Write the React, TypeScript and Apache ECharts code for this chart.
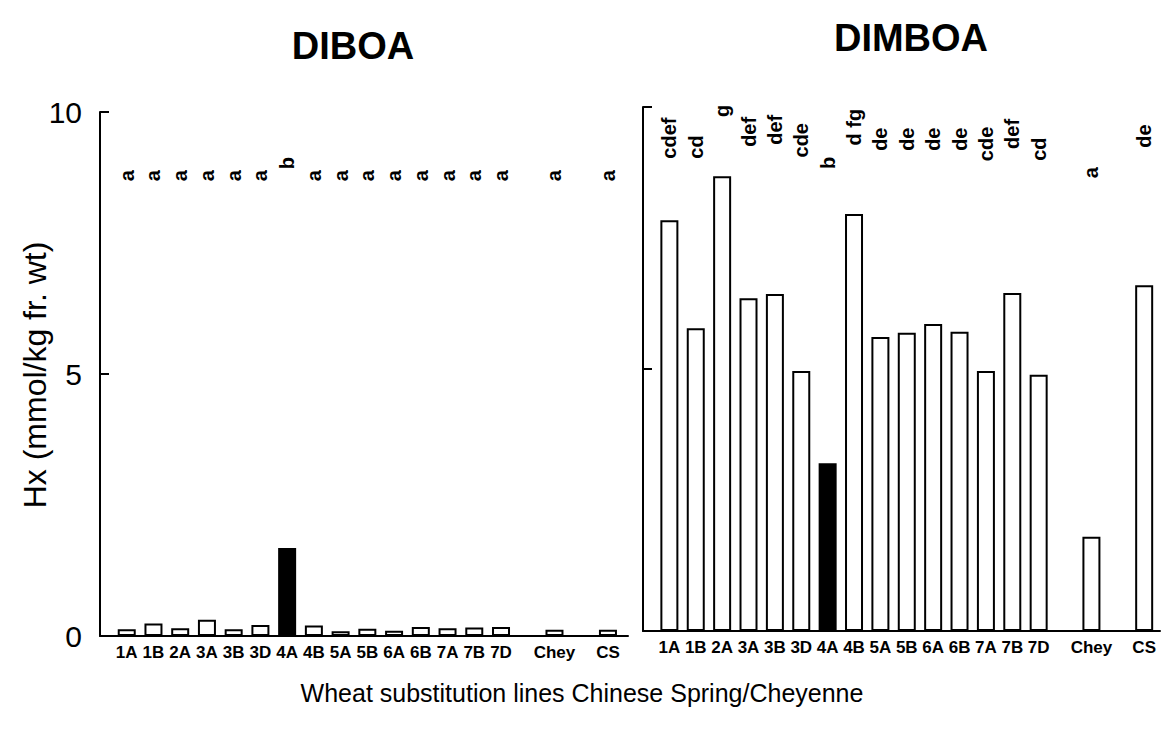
import React, { useEffect, useRef } from "react";
import * as echarts from "echarts";

// Substitution lines (blank slots are gaps between groups)
const lines = ["1A", "1B", "2A", "3A", "3B", "3D", "4A", "4B", "5A", "5B", "6A", "6B", "7A", "7B", "7D", "", "Chey", "", "CS"];
const highlightedLine = "4A";

// Hx contents (mmol/kg fr. wt)
const diboa = [0.13, 0.24, 0.15, 0.31, 0.13, 0.21, 1.68, 0.2, 0.09, 0.14, 0.1, 0.17, 0.15, 0.16, 0.17, null, 0.12, null, 0.12];
const dimboa = [7.84, 5.78, 8.68, 6.35, 6.43, 4.96, 3.2, 7.96, 5.61, 5.69, 5.86, 5.71, 4.96, 6.45, 4.89, null, 1.8, null, 6.6];

// Significance letters and the height (in axis units) where each is written
const diboaLetters = ["a", "a", "a", "a", "a", "a", "b", "a", "a", "a", "a", "a", "a", "a", "a", "", "a", "", "a"];
const diboaLetterY = [8.84, 8.84, 8.84, 8.84, 8.84, 8.84, 9.08, 8.84, 8.84, 8.84, 8.84, 8.84, 8.84, 8.84, 8.84, null, 8.84, null, 8.84];
const dimboaLetters = ["cdef", "cd", "g", "def", "def", "cde", "b", "d fg", "de", "de", "de", "de", "cde", "def", "cd", "", "a", "", "de"];
const dimboaLetterY = [9.52, 9.35, 10.04, 9.64, 9.68, 9.48, 9.05, 9.73, 9.5, 9.5, 9.5, 9.5, 9.41, 9.6, 9.31, null, 8.86, null, 9.56];

const yMin = 0;
const yMax = 10;
const yStep = 5;

const FONT = "'Liberation Sans', Arial, sans-serif";

function barData(values: (number | null)[]) {
  return values
    .map((v, i) =>
      v == null
        ? null
        : {
            value: [i, v],
            itemStyle: lines[i] === highlightedLine ? { color: "#000" } : undefined,
          }
    )
    .filter((d) => d !== null);
}

function letterData(letters: string[], ys: (number | null)[]) {
  return letters
    .map((t, i) => (t && ys[i] != null ? { value: [i, ys[i]], name: t } : null))
    .filter((d) => d !== null);
}

export default function App() {
  const ref = useRef<HTMLDivElement>(null);
  useEffect(() => {
    if (!ref.current) return;
    const chart = echarts.init(ref.current, null, { renderer: "svg" });
    const xAxisBase = (gridIndex: number, max: number) => ({
      type: "value",
      gridIndex,
      min: -1,
      max,
      interval: 1,
      axisLine: { show: true, onZero: false, lineStyle: { color: "#000", width: 2 } },
      axisTick: { show: false },
      splitLine: { show: false },
      axisLabel: {
        show: true,
        color: "#000",
        fontFamily: FONT,
        fontWeight: "bold",
        fontSize: 17,
        margin: 8,
        formatter: (v: number) => (Number.isInteger(v) && v >= 0 && v < lines.length ? lines[v] : ""),
      },
    });
    const yAxisBase = (gridIndex: number, showLabels: boolean) => ({
      type: "value",
      gridIndex,
      min: yMin,
      max: yMax,
      interval: yStep,
      axisLine: { show: true, onZero: false, lineStyle: { color: "#000", width: 2 } },
      axisTick: { show: true, inside: true, length: 9, lineStyle: { color: "#000", width: 2 } },
      splitLine: { show: false },
      axisLabel: {
        show: showLabels,
        color: "#000",
        fontFamily: FONT,
        fontSize: 30,
        margin: 18,
      },
    });
    const barSeries = (idx: number, values: (number | null)[]) => ({
      type: "bar",
      xAxisIndex: idx,
      yAxisIndex: idx,
      barWidth: 18,
      data: barData(values),
      itemStyle: { color: "#fff", borderColor: "#000", borderWidth: 2 },
    });
    const letterSeries = (idx: number, letters: string[], ys: (number | null)[], offset: number) => ({
      type: "scatter",
      xAxisIndex: idx,
      yAxisIndex: idx,
      symbol: "circle",
      symbolSize: 0.1,
      clip: false,
      itemStyle: { color: "#fff", opacity: 1 },
      data: letterData(letters, ys),
      label: {
        show: true,
        position: "inside",
        rotate: 90,
        offset: [offset, 0],
        formatter: (p: any) => p.name,
        color: "#000",
        opacity: 1,
        textBorderWidth: 0,
        fontFamily: FONT,
        fontWeight: "bold",
        fontSize: 20,
      },
    });
    chart.setOption({
      animation: false,
      textStyle: { fontFamily: FONT },
      grid: [
        { left: 100, top: 112, width: 528, height: 524 },
        { left: 643, top: 107, width: 518, height: 524 },
      ],
      xAxis: [xAxisBase(0, 18.75), xAxisBase(1, 18.6)],
      yAxis: [yAxisBase(0, true), yAxisBase(1, false)],
      series: [
        barSeries(0, diboa),
        barSeries(1, dimboa),
        letterSeries(0, diboaLetters, diboaLetterY, -3),
        letterSeries(1, dimboaLetters, dimboaLetterY, -6),
      ],
      graphic: [
        {
          type: "text",
          x: 353,
          y: 46,
          style: { text: "DIBOA", fontFamily: FONT, fontWeight: "bold", fontSize: 38, fill: "#000", textAlign: "center", textVerticalAlign: "middle" },
        },
        {
          type: "text",
          x: 911,
          y: 38,
          style: { text: "DIMBOA", fontFamily: FONT, fontWeight: "bold", fontSize: 38, fill: "#000", textAlign: "center", textVerticalAlign: "middle" },
        },
        {
          type: "text",
          x: 35,
          y: 375,
          rotation: Math.PI / 2,
          style: { text: "Hx (mmol/kg fr. wt)", fontFamily: FONT, fontSize: 32, fill: "#000", textAlign: "center", textVerticalAlign: "middle" },
        },
        {
          type: "text",
          x: 582,
          y: 693,
          style: { text: "Wheat substitution lines Chinese Spring/Cheyenne", fontFamily: FONT, fontSize: 25, fill: "#000", textAlign: "center", textVerticalAlign: "middle" },
        },
      ],
    });
    return () => chart.dispose();
  }, []);
  return <div ref={ref} style={{ position: "fixed", left: 0, top: 0, width: 1163, height: 730, background: "#fff" }} />;
}
